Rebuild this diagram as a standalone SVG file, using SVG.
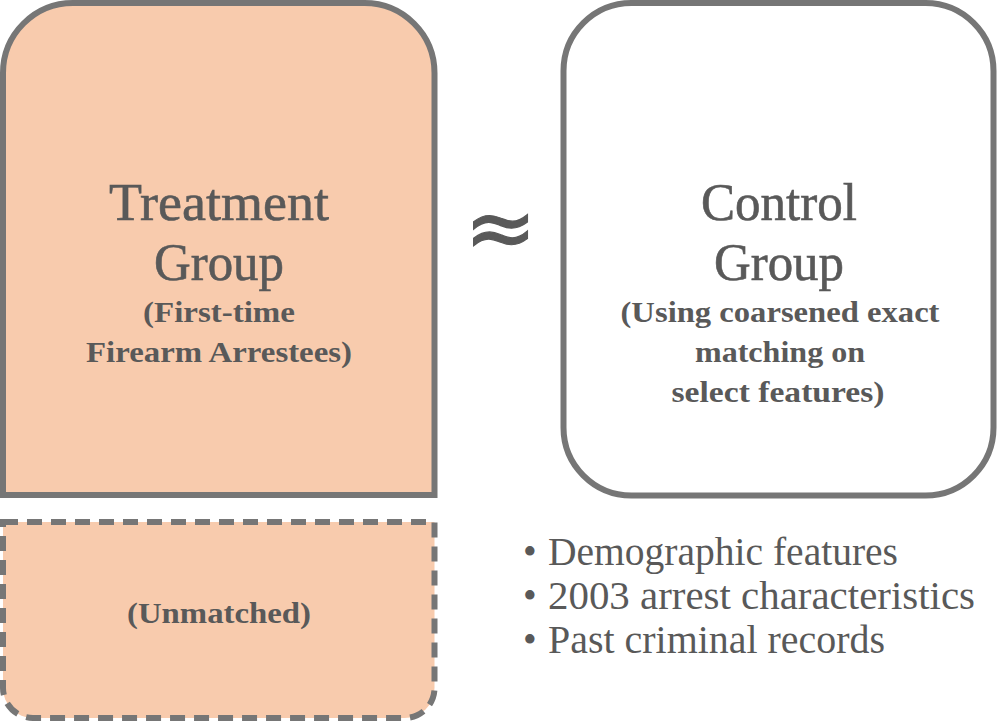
<svg xmlns="http://www.w3.org/2000/svg" width="1000" height="722" viewBox="0 0 1000 722">
<style>
.box{stroke:#767676;stroke-width:6}
.fill{fill:#F8CBAD}
.t{font-family:"Liberation Serif",serif;fill:#595959;text-anchor:middle}
.big{font-size:52px;stroke:#595959;stroke-width:0.6}
.sub{font-size:29px;font-weight:bold}
.li{font-family:"Liberation Serif",serif;fill:#595959;font-size:39px}
</style>
<rect width="1000" height="722" fill="#ffffff"/>
<g id="treatment">
<path class="box fill" d="M3,495 V73 A70,70 0 0 1 73,3 H364.5 A70,70 0 0 1 434.5,73 V495 Z"/>
<text class="t big" x="219" y="220" textLength="220" lengthAdjust="spacingAndGlyphs">Treatment</text>
<text class="t big" x="219" y="280" textLength="130" lengthAdjust="spacingAndGlyphs">Group</text>
<text class="t sub" x="219" y="322" textLength="152" lengthAdjust="spacingAndGlyphs">(First-time</text>
<text class="t sub" x="219" y="362" textLength="266" lengthAdjust="spacingAndGlyphs">Firearm Arrestees)</text>
</g>
<g id="unmatched">
<path class="box fill" stroke-dasharray="15 9" d="M3,522 H434.5 V688 A30,30 0 0 1 404.5,718 H33 A30,30 0 0 1 3,688 Z"/>
<text class="t sub" x="219" y="623" textLength="184" lengthAdjust="spacingAndGlyphs">(Unmatched)</text>
</g>
<g id="approx">
<text x="500.5" y="257" style="font-family:'DejaVu Sans',sans-serif;font-size:86px;fill:#595959;stroke:#595959;stroke-width:1.2;text-anchor:middle">≈</text>
</g>
<g id="control">
<rect class="box" fill="#ffffff" x="563.5" y="3" width="430" height="492.5" rx="68" ry="68"/>
<text class="t big" x="779" y="220" textLength="156" lengthAdjust="spacingAndGlyphs">Control</text>
<text class="t big" x="779" y="280" textLength="130" lengthAdjust="spacingAndGlyphs">Group</text>
<text class="t sub" x="780" y="322" textLength="319" lengthAdjust="spacingAndGlyphs">(Using coarsened exact</text>
<text class="t sub" x="780" y="362" textLength="170" lengthAdjust="spacingAndGlyphs">matching on</text>
<text class="t sub" x="778" y="402" textLength="213" lengthAdjust="spacingAndGlyphs">select features)</text>
</g>
<g id="features">
<text class="li" x="523" y="565">•</text>
<text class="li" x="548" y="565" textLength="350" lengthAdjust="spacingAndGlyphs">Demographic features</text>
<text class="li" x="523" y="609">•</text>
<text class="li" x="548" y="609" textLength="427" lengthAdjust="spacingAndGlyphs">2003 arrest characteristics</text>
<text class="li" x="523" y="653">•</text>
<text class="li" x="548" y="653" textLength="337" lengthAdjust="spacingAndGlyphs">Past criminal records</text>
</g>
</svg>
